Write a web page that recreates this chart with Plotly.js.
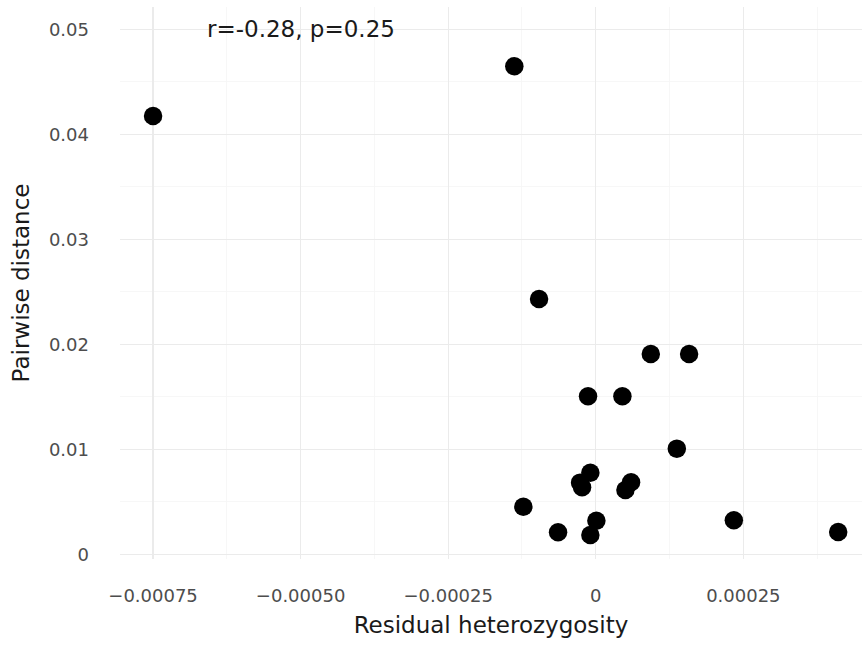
<!DOCTYPE html>
<html>
<head>
<meta charset="utf-8">
<script src="https://cdn.plot.ly/plotly-3.0.1.min.js"></script>
<style>html,body{margin:0;padding:0;background:#fff;}</style>
</head>
<body>
<div id="chart" style="width:862px;height:645px;"></div>
<script>
const residualHet = [-0.000750, -0.000138, -0.0000961, 0.0000932, 0.0001581, -0.0000131, 0.0000451, 0.0001373, -0.0000092, -0.0000266, -0.0000232, 0.0000598, 0.0000502, -0.0001227, 0.0000010, -0.0000639, -0.0000092, 0.0002339, 0.0004107];
const pairwiseDist = [0.04174, 0.04648, 0.02431, 0.01908, 0.01908, 0.01505, 0.01505, 0.01006, 0.00777, 0.00682, 0.00638, 0.00686, 0.00612, 0.00453, 0.00320, 0.00210, 0.00184, 0.00324, 0.00212];
const xTickVals = [-0.00075, -0.0005, -0.00025, 0, 0.00025];
const xTickText = ['\u22120.00075', '\u22120.00050', '\u22120.00025', '0', '0.00025'];
const yTickVals = [0, 0.01, 0.02, 0.03, 0.04, 0.05];
const yTickText = ['0', '0.01', '0.02', '0.03', '0.04', '0.05'];
const statText = 'r=-0.28, p=0.25';

const FONT = 'DejaVu Sans';
const trace = {
  x: residualHet, y: pairwiseDist, type: 'scatter', mode: 'markers',
  marker: {color: '#000000', size: 18.5, line: {width: 0}},
  hoverinfo: 'skip'
};
const layout = {
  width: 862, height: 645,
  margin: {l: 120, r: 0, t: 7, b: 86},
  paper_bgcolor: '#ffffff', plot_bgcolor: '#ffffff',
  showlegend: false,
  font: {family: FONT},
  xaxis: {
    range: [-0.000806, 0.000451],
    tickmode: 'array', tickvals: xTickVals, ticktext: xTickText,
    tickfont: {family: FONT, size: 18, color: '#4d4d4d'},
    ticks: '', showline: false, zeroline: false,
    showgrid: true, gridcolor: '#ebebeb', gridwidth: 1.2,
    ticklabelstandoff: 24,
    minor: {tickmode: 'linear', tick0: 0.000125, dtick: 0.00025, showgrid: true, gridcolor: '#f5f5f5', gridwidth: 0.8},
    title: {text: 'Residual heterozygosity', font: {family: FONT, size: 23, color: '#1a1a1a'}, standoff: 11}
  },
  yaxis: {
    range: [-0.00045, 0.05212],
    tickmode: 'array', tickvals: yTickVals, ticktext: yTickText,
    tickfont: {family: FONT, size: 18, color: '#4d4d4d'},
    ticks: '', showline: false, zeroline: false,
    showgrid: true, gridcolor: '#ebebeb', gridwidth: 1.2,
    ticklabelstandoff: 30,
    minor: {tickmode: 'linear', tick0: 0.005, dtick: 0.01, showgrid: true, gridcolor: '#f5f5f5', gridwidth: 0.8},
    title: {text: 'Pairwise distance', font: {family: FONT, size: 23, color: '#1a1a1a'}, standoff: 12}
  },
  annotations: [{
    x: -0.0005, y: 0.05, xref: 'x', yref: 'y', text: statText, showarrow: false,
    xanchor: 'center', yanchor: 'middle',
    font: {family: FONT, size: 23, color: '#1a1a1a'}
  }]
};
Plotly.newPlot('chart', [trace], layout, {staticPlot: true, displayModeBar: false});
</script>
</body>
</html>
